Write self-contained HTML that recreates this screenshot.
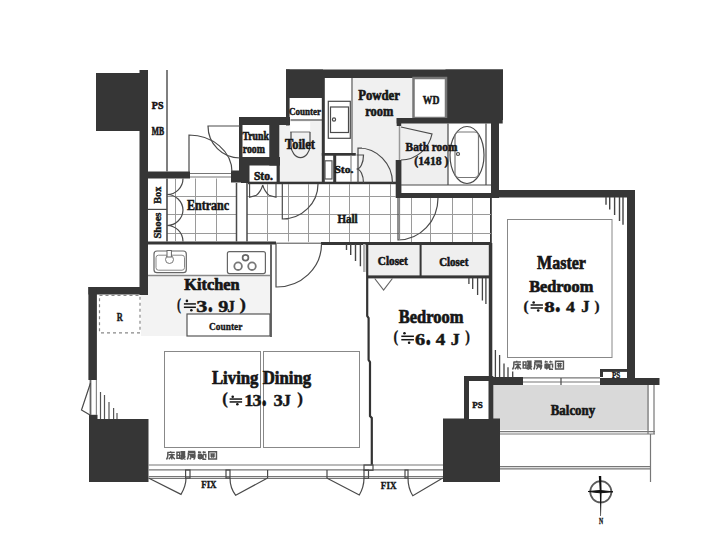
<!DOCTYPE html>
<html><head><meta charset="utf-8">
<style>
html,body{margin:0;padding:0;background:#fff;width:712px;height:539px;overflow:hidden}
svg{display:block}
text{font-family:"Liberation Serif",serif;font-weight:bold}
.w{fill:#363636}
.g1{fill:#f1f1f1}
.ln{stroke:#4a4a4a;stroke-width:1.2;fill:none}
.lt{stroke:#8a8a8a;stroke-width:1;fill:none}
.gr{stroke:#9a9a9a;stroke-width:1;fill:none}
</style></head>
<body>
<svg width="712" height="539" viewBox="0 0 712 539">
<rect x="0" y="0" width="712" height="539" fill="#fff"/>

<!-- ===== gray floor areas ===== -->
<g id="grays">
  <rect x="279" y="121" width="43" height="62" class="g1"/>
  <rect x="325" y="78" width="88" height="105" fill="#f0f0f0"/>
  <rect x="401" y="123" width="47" height="62" fill="#efefef"/>
  <rect x="368" y="245" width="52" height="31" fill="#efefef"/>
  <rect x="421" y="245" width="69" height="31" fill="#efefef"/>
  <rect x="141" y="275" width="131" height="61" fill="#f3f3f3"/>
  <rect x="493" y="385" width="156" height="45" fill="#d9d9d9"/>
</g>

<!-- white sub areas -->
<g fill="#fff">
  <rect x="289.5" y="98" width="32.5" height="22"/>
  <rect x="325" y="78" width="27" height="75"/>
  <rect x="324.5" y="155.5" width="32" height="26.5"/>
  <rect x="416" y="80" width="27" height="36"/>
  <rect x="448" y="123" width="43" height="62"/>
  <rect x="401" y="185" width="90" height="8"/>
  <rect x="99.5" y="295" width="40.5" height="38"/>
  <rect x="187" y="314" width="83" height="22"/>
  <rect x="469" y="381" width="19.5" height="37"/>
</g>

<!-- ===== walls / dark ===== -->
<g class="w">
  <!-- top-left block + left entrance wall -->
  <rect x="96" y="73" width="44" height="58"/>
  <rect x="139.5" y="70" width="8.5" height="225"/>
  <rect x="140" y="171.5" width="50" height="7"/>
  <rect x="231" y="170.5" width="18" height="12"/>
  <!-- trunk room -->
  <rect x="239" y="117" width="51" height="8"/>
  <rect x="239" y="117" width="3.5" height="54"/>
  <rect x="239" y="157" width="41" height="8.5"/>
  <rect x="241" y="157" width="8.5" height="26"/>
  <rect x="269.3" y="117" width="10" height="48.6"/>
  <rect x="276.6" y="165" width="3.2" height="17"/>
  <!-- top wall -->
  <rect x="286" y="69.5" width="217" height="8.5"/>
  <rect x="286" y="69.5" width="37" height="28.5"/>
  <rect x="286" y="69.5" width="3.6" height="56"/>
  <rect x="321.8" y="78" width="3" height="105"/>
  <rect x="445.5" y="69.5" width="57.5" height="50.5"/>
  <!-- WD border -->
  <rect x="413.5" y="78" width="32.5" height="40" fill="none" stroke="#777" stroke-width="2.5"/>
  <!-- bath -->
  <rect x="396.7" y="118" width="106" height="5.5"/>
  <rect x="396.7" y="118" width="4.5" height="8"/>
  <rect x="395.7" y="160" width="5.7" height="38"/>
  <rect x="491" y="118" width="8" height="80"/>
  <rect x="396" y="193" width="103" height="5"/>
  <!-- hall top walls -->
  <rect x="248" y="181.7" width="148" height="2.5"/>
  <rect x="321.8" y="153" width="34" height="2.7"/>
  <rect x="333.2" y="155" width="3" height="28"/>
  <!-- master -->
  <rect x="491" y="190" width="144" height="7.5"/>
  <rect x="627" y="190" width="8" height="189"/>
  <rect x="490" y="197" width="1.8" height="48"/><rect x="489" y="243" width="3.3" height="134"/>
  <!-- kitchen / closets top wall -->
  <rect x="148" y="241.5" width="128" height="3"/>
  <rect x="321" y="242" width="170" height="3"/>
  <rect x="419.6" y="244" width="2" height="33"/>
  <rect x="368" y="275.4" width="122" height="3"/>
  <path d="M367.2,244V316 L368.6,318 V360 L370,362 V416 L371.8,418 V465" fill="none" stroke="#333" stroke-width="2.2"/>
  <rect x="488.8" y="244" width="3" height="133"/>
  <!-- left walls -->
  <rect x="88.4" y="287" width="59" height="7.5"/>
  <rect x="88.4" y="287" width="8.5" height="93"/>
  <rect x="89" y="414.8" width="8.5" height="6"/>
  <rect x="89" y="419" width="59.5" height="63"/>
  <!-- bottom center block -->
  <rect x="443" y="418.5" width="57" height="63.5"/>
  <!-- PS left box -->
  <rect x="464" y="376" width="29.3" height="43"/>
  <rect x="493" y="377" width="30" height="8"/>
  <rect x="600" y="378" width="59.5" height="7"/>
  <rect x="600" y="369" width="28.6" height="8"/>
</g>
<g fill="#fff">
  <rect x="469" y="381" width="19.5" height="38"/>
  <rect x="603" y="371.9" width="24" height="6.1"/>
</g>


<!-- ===== floor grids ===== -->
<g class="gr">
  <path d="M175.5,178.5V241.5 M195.5,178.5V241.5 M216.5,178.5V241.5 M167,196.5H236.5 M167,214.5H236.5 M167,233.5H236.5"/>
  <path d="M267.5,184V241.5 M288.5,184V241.5 M308.5,184V242 M329.5,184V242 M349.5,184V242 M369.5,184V242 M390.5,184V242 M411.5,198V242 M430.5,198V242 M452.5,198V242 M472.5,198V242"/>
  <path d="M247,196.5H396 M247,214.5H491 M247,233.5H491"/>
</g>
<g class="ln">
  <!-- PS/MB line -->
  <path d="M167,70V171.5" stroke="#555" stroke-width="1.5"/>
  <!-- shoe box -->
  <path d="M167,178.5V241.5" stroke-width="1.6"/>
  <path d="M148,209.4H167"/>
  <path d="M183,178.5A16,16 0 0 1 167,194.5 M167,194.5A16,16 0 0 1 183,210 A16,16 0 0 1 167,225.5 M167,225.5A16,16 0 0 1 183,241.5"/>
  <!-- step lines -->
  <path d="M236.5,183V241.5 M247,183V241.5" stroke-width="1.5"/>
  <!-- entrance door -->
  <path d="M189,172V135 A43,37 0 0 1 232,172"/>
  <path d="M190,173.5H231 M190,177H231" stroke="#777"/>
  <!-- trunk door -->
  <path d="M240,126H208 A32,32 0 0 0 240,158"/>
  <!-- sto left doors -->
  <path d="M249.6,183.5V197.2 L256.4,195.2 Q261,191.5 262.7,185 M276,183.5V197.2 L269,195.2 Q264.5,191.5 262.7,185" stroke-width="1.1"/>
  <!-- toilet -->
  <rect x="290.2" y="121.8" width="20" height="10" fill="#fff" stroke="none"/><path d="M290.2,132H310.2" stroke="#777" stroke-width="1"/>
  <path d="M290.5,120H322"/>
  <path d="M291,132V145 A9.5,12.7 0 0 0 310,145 V132"/>
  <!-- toilet door -->
  <path d="M282.3,184V219 H288 M318,184 A36,35 0 0 1 282.3,219"/>
  <!-- powder counter -->
  <path d="M352,78V153" stroke="#999" stroke-width="2"/>
  <rect x="328.3" y="101.3" width="22" height="37" class="ln" stroke="#666"/>
  <rect x="330.5" y="107" width="18" height="25.5" class="ln" stroke="#666"/>
  <circle cx="334" cy="119.5" r="1.6" class="ln" stroke="#777"/>
  <!-- right sto -->
  <rect x="325" y="160.8" width="7" height="18.2" stroke="#555"/>
  <path d="M351,155.5V182"  stroke="#888"/>
  <path d="M356.5,155H363.5 A7,14 0 0 1 356.5,169 M356.5,169 A7,14 0 0 1 363.5,183"/>
  <!-- powder door -->
  <path d="M358,183V148H362 M358,148 A34,35 0 0 1 392.5,183"/>
  <!-- bath -->
  <path d="M401,127 L432,134 A32,33 0 0 1 401,160"/><path d="M399.5,126V160" stroke="#999" stroke-width="1.5"/>
  <path d="M448,123.5V185 M486,123.5V185 M401,185H491"/>
  <ellipse cx="467" cy="155" rx="17" ry="28.5"/>
  <rect x="455" y="132" width="23.5" height="45.5" rx="4" stroke="#777"/>
  <circle cx="458" cy="154" r="1.5"/>
  <!-- hall right line -->
  
  <!-- bedroom door -->
  <path d="M398,198V240 A40,42 0 0 0 438,198" />
  <path d="M399.5,198V240" stroke="#888"/>
  <!-- living door -->
  <path d="M276,244V287 A45,43 0 0 0 321.5,244"/>
  <path d="M276,243.2H321" stroke-width="1"/>
  <!-- kitchen -->
  <path d="M271,244V337" stroke="#666" stroke-width="2"/>
  <path d="M148,275.5H270" stroke="#888" stroke-width="1.6"/>
  <rect x="154" y="251" width="32.3" height="21.7" rx="3" stroke="#666"/>
  <rect x="156" y="255.2" width="28.5" height="15" rx="2.5" stroke="#888" stroke-width="1"/>
  <circle cx="169.5" cy="259.5" r="4" stroke="#777" fill="#fff" stroke-width="1"/>
  <rect x="167" y="250.5" width="4.4" height="6.5" stroke="#666" fill="#fff" stroke-width="1"/>
  <rect x="227.4" y="251.6" width="38" height="22" rx="2" stroke="#666"/>
  <circle cx="245.5" cy="257.7" r="2.9" stroke="#666" stroke-width="1.7"/>
  <circle cx="238.1" cy="266.2" r="3.8" stroke="#777" stroke-width="1.8"/>
  <circle cx="252" cy="266.2" r="3.8" stroke="#777" stroke-width="1.8"/>
  <rect x="187" y="314" width="83" height="22" stroke="#555"/>
  <rect x="99.5" y="295.3" width="40.5" height="37.5" stroke="#888" stroke-dasharray="3,3"/>
  <!-- bedroom closet triangle -->
  <path d="M374.7,278.5 L383.6,290 L392.4,278.5" stroke="#666"/>
  <!-- living rects -->
  <rect x="164.5" y="351.5" width="96" height="96" stroke="#888" stroke-width="1"/>
  <rect x="263.5" y="351.5" width="96" height="96" stroke="#888" stroke-width="1"/>
  <!-- master inner rect -->
  <rect x="507.5" y="219.5" width="104.5" height="138" stroke="#888" stroke-width="1"/>
  <!-- left window -->
  <path d="M90.5,380V415" stroke="#666" stroke-width="1.8"/><path d="M96.4,380V415" stroke="#888"/>
  <path d="M90.5,383 L81.5,410 L90,415"/>
  <!-- bottom facade -->
  <path d="M148.5,465H443 M148.5,469.8H443 M148.5,476.5H443 M148.5,478.3H443" stroke="#777"/>
  <path d="M500,466.6H650 M500,468.8H650" stroke="#777"/>
  <rect x="185.6" y="470" width="4.4" height="8"/>
  <rect x="226" y="470" width="4" height="8"/>
  <rect x="364" y="465" width="9" height="5.3"/><rect x="364" y="470" width="4.5" height="8.3"/>
  <rect x="405" y="470" width="3" height="8"/>
  <path d="M267.6,470V478 M327,470V478"/>
  <path d="M148.5,478 L181,494.4 Q186,486 186,478"/>
  <path d="M230,478 Q230,488 235.7,495.3 L267.6,478"/>
  <path d="M326.7,478 L359.3,495 Q364,487 364,478"/>
  <path d="M408,478 Q408,488 412.8,495.8 L442.8,478"/>
  <!-- master window -->
  <path d="M523,377.8H600 M523,382H600" stroke="#777"/>
  <path d="M561,378V385"/>
  <!-- balcony lines -->
  <path d="M500,431.7H655 M500,434H655" stroke="#777"/>
  <path d="M648,385V434 M654,385V434 M650.5,434V482" stroke="#777"/>
  <!-- hatch marks -->
  <path d="M100.5,392V419 M104.5,395V419 M109,402V419 M113.6,408V419 M117,413V419" stroke="#555"/>
  <path d="M346.5,244V250 M350.7,244V255 M355.5,244V261 M360.4,244V266.3" stroke="#444" stroke-width="1.4"/>
  <path d="M364.3,244V272" stroke="#b0b0b0" stroke-width="2.5"/>
  <path d="M468.9,278V284 M472.7,278V289 M477.6,278V295 M482.4,278V300.6 M485.9,278V304" stroke="#444" stroke-width="1.3"/>
  <path d="M606,197V204.8 M609.7,197V209.5 M614.6,197V215 M619.5,197V221 M623,197V224.8" stroke="#444" stroke-width="1.4"/>
  <path d="M495.4,350V377 M499.6,355V377 M504,363.6V377 M508,367.2V377 M512.7,371.5V377" stroke="#444" stroke-width="1.3"/>
  <!-- compass -->
  <circle cx="600.8" cy="491.8" r="10.6" stroke="#5a5a5a" stroke-width="1.7"/>
  <path d="M588,491.5L600,490.5L613,491.8L600,492.8Z" fill="#111" stroke="#111" stroke-width="1"/>
  <path d="M598.8,476H601.2L601.6,492L601,516H600.4L599.8,492Z" fill="#111" stroke="none"/>
</g>




<g>
<text transform="translate(151.83,109.00) scale(0.940,1)" font-size="10.57" stroke="#161616" stroke-width="0.6" fill="#161616" >PS</text>
<text transform="translate(151.87,134.50) scale(0.669,1)" font-size="11.45" stroke="#161616" stroke-width="0.6" fill="#161616" >MB</text>
<text transform="translate(288.96,114.50) scale(0.858,1)" font-size="10.57" stroke="#161616" stroke-width="0.45" fill="#161616" >Counter</text>
<text transform="translate(242.45,140.10) scale(0.798,1)" font-size="12.25" stroke="#161616" stroke-width="0.6" fill="#161616" >Trunk</text>
<text transform="translate(242.74,153.30) scale(0.741,1)" font-size="13.30" stroke="#161616" stroke-width="0.6" fill="#161616" >room</text>
<text transform="translate(285.01,148.50) scale(0.865,1)" font-size="14.41" stroke="#161616" stroke-width="0.6" fill="#161616" >Toilet</text>
<text transform="translate(253.88,179.50) scale(0.998,1)" font-size="11.63" stroke="#161616" stroke-width="0.6" fill="#161616" >Sto.</text>
<text transform="translate(334.39,173.00) scale(1.062,1)" font-size="10.87" stroke="#161616" stroke-width="0.5" fill="#161616" >Sto.</text>
<text transform="translate(358.18,99.80) scale(0.903,1)" font-size="14.12" stroke="#161616" stroke-width="0.65" fill="#161616" >Powder</text>
<text transform="translate(365.27,116.30) scale(0.842,1)" font-size="14.78" stroke="#161616" stroke-width="0.65" fill="#161616" >room</text>
<text transform="translate(422.76,103.50) scale(0.780,1)" font-size="12.37" stroke="#161616" stroke-width="0.5" fill="#161616" >WD</text>
<text transform="translate(405.61,150.50) scale(0.906,1)" font-size="12.54" stroke="#161616" stroke-width="0.55" fill="#161616" >Bath room</text>
<text transform="translate(414.28,165.00) scale(0.905,1)" font-size="12.97" stroke="#161616" stroke-width="0.5" fill="#161616" >(1418 )</text>
<text transform="translate(160.60,203.77) rotate(-90) scale(0.934,1)" font-size="11.00" stroke="#161616" stroke-width="0.4" fill="#161616">Box</text>
<text transform="translate(160.60,238.57) rotate(-90) scale(1.030,1)" font-size="10.38" stroke="#161616" stroke-width="0.4" fill="#161616">Shoes</text>
<text transform="translate(186.99,210.40) scale(0.885,1)" font-size="13.59" stroke="#161616" stroke-width="0.5" fill="#161616" >Entranc</text>
<text transform="translate(337.41,222.80) scale(0.903,1)" font-size="12.25" stroke="#161616" stroke-width="0.5" fill="#161616" >Hall</text>
<text transform="translate(377.85,265.30) scale(0.952,1)" font-size="11.82" stroke="#161616" stroke-width="0.55" fill="#161616" >Closet</text>
<text transform="translate(439.17,266.20) scale(0.915,1)" font-size="11.96" stroke="#161616" stroke-width="0.55" fill="#161616" >Closet</text>
<text transform="translate(184.22,290.40) scale(0.977,1)" font-size="16.72" stroke="#161616" stroke-width="0.7" fill="#161616" >Kitchen</text>
<text transform="translate(209.04,329.50) scale(0.828,1)" font-size="11.33" stroke="#161616" stroke-width="0.35" fill="#161616" >Counter</text>
<text transform="translate(116.66,320.60) scale(0.625,1)" font-size="13.44" stroke="#161616" stroke-width="0.45" fill="#161616" >R</text>
<text transform="translate(211.91,383.80) scale(0.909,1)" font-size="18.45" stroke="#161616" stroke-width="0.7" fill="#161616" >Living Dining</text>
<text transform="translate(398.73,323.00) scale(0.908,1)" font-size="18.16" stroke="#161616" stroke-width="0.7" fill="#161616" >Bedroom</text>
<text transform="translate(537.03,268.80) scale(0.846,1)" font-size="18.94" stroke="#161616" stroke-width="0.7" fill="#161616" >Master</text>
<text transform="translate(529.13,292.00) scale(0.946,1)" font-size="17.29" stroke="#161616" stroke-width="0.7" fill="#161616" >Bedroom</text>
<text transform="translate(550.79,415.40) scale(0.930,1)" font-size="13.84" stroke="#161616" stroke-width="0.6" fill="#161616" >Balcony</text>
<text transform="translate(472.35,407.60) scale(0.996,1)" font-size="9.06" stroke="#161616" stroke-width="0.45" fill="#161616" >PS</text>
<text transform="translate(611.88,377.50) scale(0.897,1)" font-size="7.85" stroke="#161616" stroke-width="0.35" fill="#161616" >PS</text>
<text transform="translate(201.15,488.00) scale(0.904,1)" font-size="9.93" stroke="#161616" stroke-width="0.35" fill="#161616" >FIX</text>
<text transform="translate(380.84,489.00) scale(0.851,1)" font-size="10.69" stroke="#161616" stroke-width="0.35" fill="#161616" >FIX</text>
<text transform="translate(598.89,523.60) scale(0.730,1)" font-size="7.94" stroke="#161616" stroke-width="0.3" fill="#161616" >N</text>
<text transform="translate(177.07,310.03) scale(0.720,1)" font-size="16.76" stroke="#161616" stroke-width="0.3" fill="#161616" >(</text>
<rect x="183.90" y="303.17" width="12.00" height="1.5" fill="#161616"/>
<rect x="183.90" y="306.53" width="12.00" height="1.5" fill="#161616"/>
<circle cx="186.90" cy="300.90" r="1.3" fill="#161616"/>
<circle cx="191.34" cy="310.30" r="1.3" fill="#161616"/>
<text transform="translate(196.37,311.70) scale(1.288,1)" font-size="17.22" stroke="#161616" stroke-width="0.45" fill="#161616" >3</text>
<text transform="translate(207.68,311.50) scale(0.690,1)" font-size="30.42" stroke="#161616" stroke-width="0.4" fill="#161616" >.</text>
<text transform="translate(218.15,311.70) scale(1.171,1)" font-size="17.22" stroke="#161616" stroke-width="0.45" fill="#161616" >9</text>
<text transform="translate(227.33,311.70) scale(0.872,1)" font-size="17.41" stroke="#161616" stroke-width="0.45" fill="#161616" >J</text>
<text transform="translate(239.57,310.03) scale(1.161,1)" font-size="16.76" stroke="#161616" stroke-width="0.3" fill="#161616" >)</text>
<text transform="translate(393.58,341.80) scale(0.853,1)" font-size="16.43" stroke="#161616" stroke-width="0.3" fill="#161616" >(</text>
<rect x="401.30" y="335.54" width="12.60" height="1.5" fill="#161616"/>
<rect x="401.30" y="338.96" width="12.60" height="1.5" fill="#161616"/>
<circle cx="404.45" cy="333.20" r="1.3" fill="#161616"/>
<circle cx="409.11" cy="342.80" r="1.3" fill="#161616"/>
<text transform="translate(415.00,344.70) scale(1.262,1)" font-size="16.16" stroke="#161616" stroke-width="0.45" fill="#161616" >6</text>
<text transform="translate(425.42,344.70) scale(0.699,1)" font-size="31.77" stroke="#161616" stroke-width="0.4" fill="#161616" >.</text>
<text transform="translate(435.74,344.70) scale(1.170,1)" font-size="16.26" stroke="#161616" stroke-width="0.45" fill="#161616" >4</text>
<text transform="translate(450.70,344.70) scale(1.100,1)" font-size="16.34" stroke="#161616" stroke-width="0.45" fill="#161616" >J</text>
<text transform="translate(465.35,341.80) scale(0.853,1)" font-size="16.43" stroke="#161616" stroke-width="0.3" fill="#161616" >)</text>
<text transform="translate(222.26,403.74) scale(1.062,1)" font-size="15.77" stroke="#161616" stroke-width="0.3" fill="#161616" >(</text>
<rect x="229.60" y="398.30" width="12.50" height="1.5" fill="#161616"/>
<rect x="229.60" y="401.20" width="12.50" height="1.5" fill="#161616"/>
<circle cx="232.72" cy="396.70" r="1.3" fill="#161616"/>
<circle cx="237.35" cy="404.30" r="1.3" fill="#161616"/>
<text transform="translate(244.24,405.90) scale(1.063,1)" font-size="17.12" stroke="#161616" stroke-width="0.45" fill="#161616" >1</text>
<text transform="translate(252.53,405.90) scale(1.040,1)" font-size="17.07" stroke="#161616" stroke-width="0.45" fill="#161616" >3</text>
<text transform="translate(261.55,405.90) scale(0.652,1)" font-size="33.12" stroke="#161616" stroke-width="0.4" fill="#161616" >.</text>
<text transform="translate(273.60,405.90) scale(1.095,1)" font-size="17.07" stroke="#161616" stroke-width="0.45" fill="#161616" >3</text>
<text transform="translate(282.45,405.90) scale(0.974,1)" font-size="17.26" stroke="#161616" stroke-width="0.45" fill="#161616" >J</text>
<text transform="translate(297.25,403.74) scale(1.086,1)" font-size="15.77" stroke="#161616" stroke-width="0.3" fill="#161616" >)</text>
<text transform="translate(523.43,310.55) scale(1.059,1)" font-size="14.34" stroke="#161616" stroke-width="0.3" fill="#161616" >(</text>
<rect x="530.60" y="304.25" width="12.30" height="1.5" fill="#161616"/>
<rect x="530.60" y="307.25" width="12.30" height="1.5" fill="#161616"/>
<circle cx="533.67" cy="302.50" r="1.3" fill="#161616"/>
<circle cx="538.23" cy="310.50" r="1.3" fill="#161616"/>
<text transform="translate(544.20,312.30) scale(1.355,1)" font-size="15.49" stroke="#161616" stroke-width="0.45" fill="#161616" >8</text>
<text transform="translate(554.84,312.30) scale(0.828,1)" font-size="29.06" stroke="#161616" stroke-width="0.4" fill="#161616" >.</text>
<text transform="translate(566.05,312.30) scale(1.148,1)" font-size="15.65" stroke="#161616" stroke-width="0.45" fill="#161616" >4</text>
<text transform="translate(581.16,312.30) scale(1.054,1)" font-size="15.73" stroke="#161616" stroke-width="0.45" fill="#161616" >J</text>
<text transform="translate(594.41,310.55) scale(1.059,1)" font-size="14.34" stroke="#161616" stroke-width="0.3" fill="#161616" >)</text>
<path transform="translate(166.00,451.00) scale(0.920,0.850)" d="M5,0.3V1.5 M1.5,1.6H9.5 M2,1.6V5 Q2,8 0.5,10 M3,4.5H9.5 M6.3,3V10 M6.2,5 Q5,8 3,9.5 M6.4,5 Q7.5,8 9.7,9.5" fill="none" stroke="#555" stroke-width="1.47" vector-effect="non-scaling-stroke"/>
<path transform="translate(176.50,451.00) scale(0.920,0.850)" d="M0.5,1.5H3.5V8.5H0.5Z M0.5,5H3.5 M4.5,0.8H9.5 M5,2.5H9.5 M5,4H9.5 M6.8,0.8V4 M4.5,5.5H9.5 M6,5.5Q5.5,8 4.5,9.8 M6.5,7.2H9 Q8,9 5.5,9.8 M6.5,7.5 Q7.5,9 9.8,9.8" fill="none" stroke="#555" stroke-width="1.47" vector-effect="non-scaling-stroke"/>
<path transform="translate(187.00,451.00) scale(0.920,0.850)" d="M1,0.5H9 M1.5,1.8H8.5V4H1.5 M1.5,1.8V5 Q1.5,8 0.3,10 M5.5,4.5V5.5 M3,5.8H9.5 M5,5.8 Q4.5,8.5 3,9.8 M5.5,7.3H8.5 Q8.5,9.5 7,9.8" fill="none" stroke="#555" stroke-width="1.47" vector-effect="non-scaling-stroke"/>
<path transform="translate(197.50,451.00) scale(0.920,0.850)" d="M0.5,1.5H4 M2,0.3 L1,2.5 M5.5,1.5H9 M7,0.3 L6,2.5 M0.5,4H5 M1,5H4.5V7.5H1Z M0.5,8.5H5 M2.75,3V10 M6,4H9V8 M6,4V9.8H9.5" fill="none" stroke="#555" stroke-width="1.47" vector-effect="non-scaling-stroke"/>
<path transform="translate(208.00,451.00) scale(0.920,0.850)" d="M0.8,0.8H9.2V9.5H0.8Z M0.8,9.5 M2.5,3.5H7.5 M2.5,6H7.5 M4,2.5V8 M6,2.5V8" fill="none" stroke="#555" stroke-width="1.47" vector-effect="non-scaling-stroke"/>
<path transform="translate(512.00,360.50) scale(0.940,0.900)" d="M5,0.3V1.5 M1.5,1.6H9.5 M2,1.6V5 Q2,8 0.5,10 M3,4.5H9.5 M6.3,3V10 M6.2,5 Q5,8 3,9.5 M6.4,5 Q7.5,8 9.7,9.5" fill="none" stroke="#555" stroke-width="1.44" vector-effect="non-scaling-stroke"/>
<path transform="translate(522.70,360.50) scale(0.940,0.900)" d="M0.5,1.5H3.5V8.5H0.5Z M0.5,5H3.5 M4.5,0.8H9.5 M5,2.5H9.5 M5,4H9.5 M6.8,0.8V4 M4.5,5.5H9.5 M6,5.5Q5.5,8 4.5,9.8 M6.5,7.2H9 Q8,9 5.5,9.8 M6.5,7.5 Q7.5,9 9.8,9.8" fill="none" stroke="#555" stroke-width="1.44" vector-effect="non-scaling-stroke"/>
<path transform="translate(533.40,360.50) scale(0.940,0.900)" d="M1,0.5H9 M1.5,1.8H8.5V4H1.5 M1.5,1.8V5 Q1.5,8 0.3,10 M5.5,4.5V5.5 M3,5.8H9.5 M5,5.8 Q4.5,8.5 3,9.8 M5.5,7.3H8.5 Q8.5,9.5 7,9.8" fill="none" stroke="#555" stroke-width="1.44" vector-effect="non-scaling-stroke"/>
<path transform="translate(544.10,360.50) scale(0.940,0.900)" d="M0.5,1.5H4 M2,0.3 L1,2.5 M5.5,1.5H9 M7,0.3 L6,2.5 M0.5,4H5 M1,5H4.5V7.5H1Z M0.5,8.5H5 M2.75,3V10 M6,4H9V8 M6,4V9.8H9.5" fill="none" stroke="#555" stroke-width="1.44" vector-effect="non-scaling-stroke"/>
<path transform="translate(554.80,360.50) scale(0.940,0.900)" d="M0.8,0.8H9.2V9.5H0.8Z M0.8,9.5 M2.5,3.5H7.5 M2.5,6H7.5 M4,2.5V8 M6,2.5V8" fill="none" stroke="#555" stroke-width="1.44" vector-effect="non-scaling-stroke"/>
</g>
</svg>
</body></html>
